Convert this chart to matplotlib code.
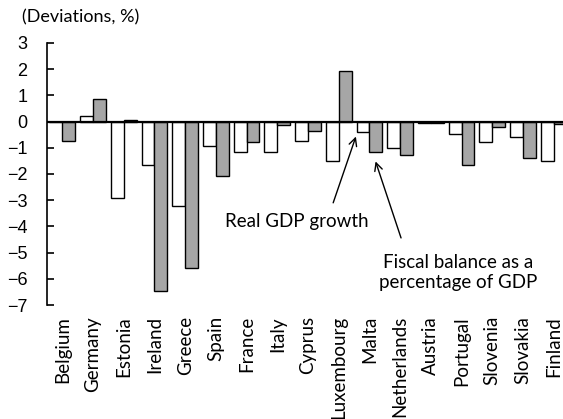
import matplotlib
matplotlib.use("Agg")
import matplotlib.pyplot as plt
import numpy as np

countries = ["Belgium", "Germany", "Estonia", "Ireland", "Greece", "Spain", "France",
             "Italy", "Cyprus", "Luxembourg", "Malta", "Netherlands", "Austria",
             "Portugal", "Slovenia", "Slovakia", "Finland"]
real_gdp = [0.0, 0.22, -2.92, -1.64, -3.24, -0.95, -1.16, -1.16, -0.73, -1.50,
            -0.38, -1.00, -0.05, -0.47, -0.78, -0.57, -1.50]
fiscal = [-0.74, 0.88, 0.05, -6.45, -5.58, -2.06, -0.79, -0.12, -0.36, 1.93,
          -1.16, -1.27, -0.05, -1.64, -0.19, -1.38, -0.08]
yticks = [3, 2, 1, 0, -1, -2, -3, -4, -5, -6, -7]

fig = plt.figure(figsize=(5.63, 4.19), dpi=100)
ax = fig.add_axes([47/563, 1 - 305/419, (569 - 47)/563, (305 - 43)/419])

x = np.arange(len(countries))
w = 0.42
ax.bar(x - w/2, real_gdp, width=w, color="white", edgecolor="black", linewidth=1.0, zorder=2)
ax.bar(x + w/2, fiscal, width=w, color="#A6A6A6", edgecolor="black", linewidth=1.0, zorder=2)
ax.axhline(0, color="black", linewidth=1.6, zorder=3)

ax.set_xlim(-0.5, len(countries) - 0.5)
ax.set_ylim(-7, 3)
ax.set_yticks(yticks)
ax.set_yticklabels([str(v).replace("-", "\u2212") for v in yticks],
                   fontfamily="Liberation Sans", fontsize=13)
ax.tick_params(axis="y", direction="in", length=5, width=1.2, pad=14)
ax.set_xticks(x)
ax.set_xticklabels(countries, rotation=90, fontfamily="Lato", fontsize=13.5)
ax.tick_params(axis="x", length=0, pad=8)
for s in ["top", "right", "bottom"]:
    ax.spines[s].set_visible(False)
ax.spines["left"].set_linewidth(1.2)

fig.text(22/563, 1 - 17/419, "(Deviations, %)", fontfamily="Lato", fontsize=13,
         va="center", ha="left")

arrow = dict(arrowstyle="->", color="black", lw=1.0, shrinkA=0, shrinkB=0,
             mutation_scale=14)
ax.annotate("", xy=(9.56, -0.57), xytext=(8.82, -3.1), arrowprops=arrow)
ax.text(7.64, -3.83, "Real GDP growth", ha="center", va="center",
        fontfamily="Lato", fontsize=13.5)
ax.annotate("", xy=(10.2, -1.52), xytext=(11.03, -4.44), arrowprops=arrow)
ax.text(12.89, -5.75, "Fiscal balance as a\npercentage of GDP", ha="center", va="center",
        fontfamily="Lato", fontsize=13.5, linespacing=1.25)

fig.savefig("out.png", dpi=100)
